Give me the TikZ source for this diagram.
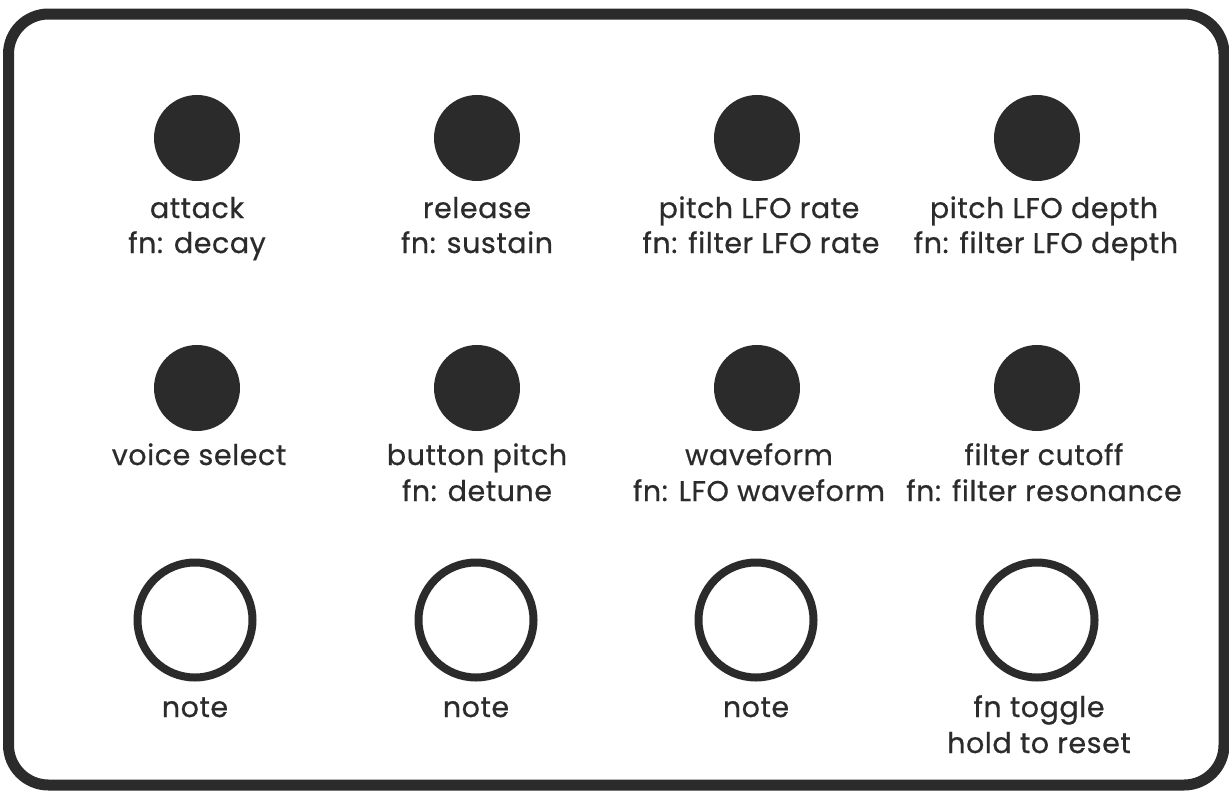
\documentclass[tikz,border=0pt]{standalone}
\usepackage{fontspec}
\setmainfont{Poppins}[FakeBold=0.6,LetterSpace=2]
\definecolor{ink}{RGB}{43,43,43}
\begin{document}
\begin{tikzpicture}[x=1pt,y=-1pt,
  knob/.style={circle,fill=ink,minimum size=86pt,inner sep=0pt},
  pad/.style={circle,draw=ink,line width=8pt,fill=white,minimum size=115pt,inner sep=0pt},
  lbl/.style={anchor=base,inner sep=0pt,text=ink,font=\fontsize{28.5}{34}\selectfont}]
  \useasboundingbox (0,0) rectangle (1229,790);
  \fill[white] (0,0) rectangle (1229,790);
  % panel outline
  \draw[ink,line width=11pt,rounded corners=40pt] (8.5,14) rectangle (1224,785);

  % upper row of knobs
  \node[knob] (k1) at (197,138) {};
  \node[knob] (k2) at (477,138) {};
  \node[knob] (k3) at (757,138) {};
  \node[knob] (k4) at (1037,138) {};
  \node[lbl] (k1a) at (197,218) {attack};
  \node[lbl] (k1b) at (197,253) {fn: decay};
  \node[lbl] (k2a) at (477,218) {release};
  \node[lbl] (k2b) at (477,253) {fn: sustain};
  \node[lbl] (k3a) at (759,218) {pitch LFO rate};
  \node[lbl] (k3b) at (761,253) {fn: filter LFO rate};
  \node[lbl] (k4a) at (1044,218) {pitch LFO depth};
  \node[lbl] (k4b) at (1046,253) {fn: filter LFO depth};

  % lower row of knobs
  \node[knob] (m1) at (197,388) {};
  \node[knob] (m2) at (477,388) {};
  \node[knob] (m3) at (757,388) {};
  \node[knob] (m4) at (1037,388) {};
  \node[lbl] (m1a) at (199,465) {voice select};
  \node[lbl] (m2a) at (477,465) {button pitch};
  \node[lbl] (m2b) at (477,501) {fn: detune};
  \node[lbl] (m3a) at (759,465) {waveform};
  \node[lbl] (m3b) at (759,501) {fn: LFO waveform};
  \node[lbl] (m4a) at (1044,465) {filter cutoff};
  \node[lbl] (m4b) at (1044,501) {fn: filter resonance};

  % note buttons
  \node[pad] (b1) at (195,620) {};
  \node[pad] (b2) at (476,620) {};
  \node[pad] (b3) at (756,620) {};
  \node[pad] (b4) at (1037,620) {};
  \node[lbl] (b1a) at (195,717) {note};
  \node[lbl] (b2a) at (476,717) {note};
  \node[lbl] (b3a) at (756,717) {note};
  \node[lbl] (b4a) at (1039,717) {fn toggle};
  \node[lbl] (b4b) at (1039,753) {hold to reset};
\end{tikzpicture}
\end{document}
